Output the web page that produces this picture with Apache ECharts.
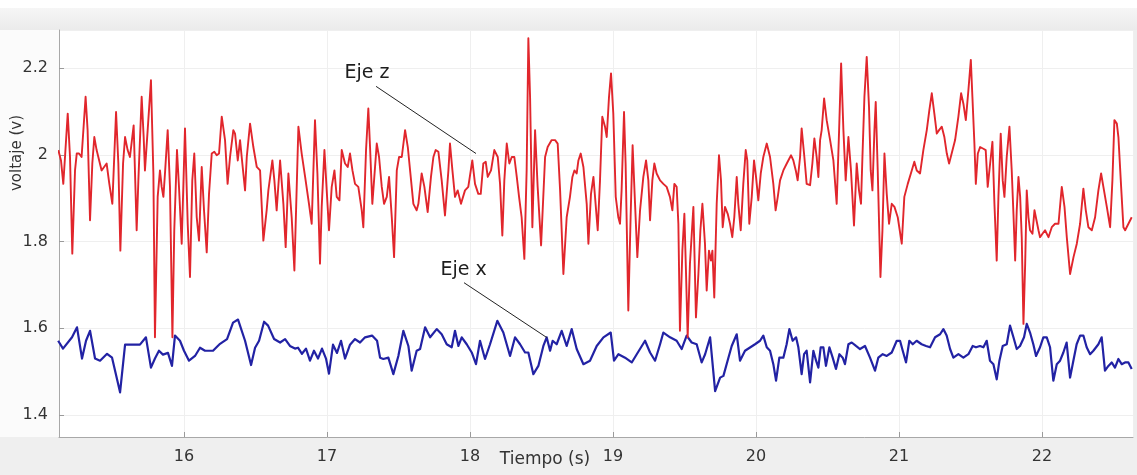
<!DOCTYPE html>
<html>
<head>
<meta charset="utf-8">
<title>Voltaje vs tiempo</title>
<script src="https://cdn.jsdelivr.net/npm/echarts@6/dist/echarts.min.js"></script>
<style>
  html, body { margin: 0; padding: 0; background: #ffffff; }
  #chart { width: 1137px; height: 475px; }
</style>
</head>
<body>
<div id="chart"></div>
<script>
// Eje z (red trace): time in seconds, voltage in volts
const zTime = [15.121,15.140,15.156,15.168,15.187,15.203,15.219,15.238,15.250,15.266,15.284,15.312,15.326,15.343,15.359,15.373,15.389,15.424,15.459,15.478,15.499,15.525,15.541,15.555,15.574,15.588,15.606,15.622,15.648,15.669,15.681,15.704,15.718,15.727,15.746,15.769,15.786,15.797,15.816,15.832,15.844,15.856,15.867,15.886,15.902,15.919,15.932,15.951,15.965,15.984,16.007,16.026,16.042,16.058,16.072,16.089,16.105,16.124,16.140,16.159,16.175,16.194,16.212,16.229,16.245,16.264,16.287,16.305,16.322,16.345,
  16.357,16.376,16.392,16.408,16.427,16.439,16.462,16.485,16.509,16.532,16.555,16.578,16.590,16.618,16.632,16.648,16.672,16.695,16.711,16.730,16.753,16.772,16.800,16.823,16.847,16.874,16.893,16.916,16.933,16.951,16.963,16.982,16.998,17.014,17.033,17.052,17.068,17.087,17.103,17.126,17.145,17.161,17.178,17.196,17.219,17.243,17.254,17.273,17.289,17.301,17.317,17.348,17.364,17.383,17.399,17.418,17.434,17.453,17.469,17.488,17.504,17.523,17.546,17.565,17.581,17.604,17.627,
  17.639,17.662,17.681,17.704,17.727,17.744,17.760,17.779,17.802,17.825,17.849,17.860,17.877,17.895,17.914,17.937,17.965,17.988,18.016,18.035,18.058,18.075,18.093,18.110,18.124,18.147,18.170,18.194,18.210,18.226,18.240,18.257,18.275,18.292,18.310,18.327,18.343,18.361,18.380,18.396,18.408,18.420,18.436,18.455,18.473,18.497,18.525,18.543,18.571,18.595,18.613,18.630,18.653,18.676,18.699,18.716,18.730,18.746,18.758,18.774,18.793,18.816,18.828,18.846,18.863,
  18.893,18.909,18.925,18.944,18.956,18.972,18.986,19.002,19.019,19.037,19.049,19.060,19.077,19.088,19.107,19.123,19.137,19.154,19.170,19.189,19.212,19.231,19.247,19.259,19.275,19.289,19.305,19.329,19.352,19.375,19.398,19.415,19.429,19.445,19.457,19.468,19.485,19.499,19.510,19.522,19.538,19.562,19.580,19.597,19.611,19.625,19.643,19.655,19.671,19.685,19.695,19.708,19.725,19.741,19.755,19.767,19.783,19.802,19.818,19.834,19.848,19.865,19.876,19.893,19.911,19.928,19.939,19.953,19.970,19.986,20.000,20.016,20.033,20.051,20.075,20.098,20.121,20.137,
  20.152,20.168,20.191,20.215,20.245,20.261,20.278,20.291,20.308,20.319,20.338,20.354,20.378,20.394,20.408,20.424,20.436,20.448,20.459,20.476,20.494,20.518,20.541,20.564,20.581,20.595,20.611,20.627,20.646,20.664,20.685,20.704,20.720,20.734,20.744,20.758,20.774,20.790,20.802,20.814,20.828,20.837,20.851,20.870,20.884,20.898,20.914,20.930,20.949,20.968,20.991,21.019,21.037,21.061,21.089,21.107,21.124,21.147,21.170,21.194,21.212,21.229,21.247,21.264,21.280,21.299,21.317,21.334,21.350,21.368,21.392,
  21.415,21.434,21.450,21.467,21.485,21.502,21.513,21.527,21.537,21.551,21.567,21.590,21.606,21.620,21.637,21.653,21.667,21.683,21.695,21.711,21.725,21.737,21.753,21.772,21.788,21.800,21.812,21.823,21.835,21.847,21.858,21.870,21.882,21.893,21.905,21.916,21.933,21.947,21.961,21.975,21.986,22.003,22.021,22.045,22.068,22.091,22.115,22.138,22.157,22.173,22.196,22.220,22.243,22.266,22.289,22.306,22.324,22.348,22.371,22.394,22.413,22.429,22.453,22.476,22.492,22.506,22.523,22.534,22.553,22.569,22.581,22.604,22.627];
const zVolt = [2.011,1.987,1.933,1.995,2.095,1.995,1.772,1.964,2.003,2.003,1.995,2.134,2.057,1.849,1.980,2.041,2.011,1.964,1.980,1.933,1.887,2.099,1.980,1.779,1.980,2.041,2.011,1.995,2.068,1.826,1.941,2.134,2.041,1.964,2.057,2.172,1.957,1.579,1.903,1.964,1.926,1.903,1.957,2.057,1.926,1.579,1.826,2.011,1.926,1.795,2.061,1.841,1.718,1.941,2.003,1.856,1.802,1.972,1.872,1.775,1.910,2.003,2.007,1.999,2.003,2.088,2.034,1.933,1.995,2.057,
  2.049,1.987,2.034,1.980,1.918,1.995,2.072,2.018,1.972,1.964,1.802,1.872,1.918,1.987,1.941,1.872,1.987,1.887,1.787,1.957,1.856,1.733,2.065,2.003,1.949,1.887,1.841,2.080,1.957,1.749,1.880,2.011,1.918,1.826,1.926,1.964,1.903,1.895,2.011,1.980,1.972,2.003,1.964,1.933,1.926,1.872,1.833,2.011,2.107,2.018,1.887,2.026,1.995,1.926,1.887,1.903,1.949,1.856,1.764,1.964,1.995,1.995,2.057,2.018,1.964,1.887,1.872,
  1.887,1.957,1.926,1.868,1.949,1.995,2.011,2.007,1.941,1.860,1.964,2.026,1.964,1.903,1.918,1.887,1.918,1.926,1.987,1.933,1.910,1.910,1.980,1.984,1.949,1.964,2.011,1.995,1.933,1.814,1.941,2.026,1.980,1.995,1.995,1.949,1.903,1.856,1.760,1.964,2.269,2.134,1.833,2.057,1.926,1.791,1.995,2.018,2.034,2.034,2.026,1.918,1.725,1.856,1.903,1.949,1.964,1.957,1.987,2.003,1.972,1.887,1.795,1.910,1.949,
  1.826,1.941,2.088,2.065,2.041,2.134,2.188,2.095,1.903,1.856,1.841,1.918,2.099,1.980,1.641,1.856,2.022,1.887,1.764,1.872,1.949,1.987,1.941,1.849,1.941,1.980,1.957,1.941,1.933,1.926,1.903,1.872,1.933,1.926,1.841,1.594,1.779,1.864,1.733,1.579,1.749,1.880,1.625,1.725,1.826,1.887,1.795,1.687,1.779,1.756,1.779,1.671,1.887,1.999,1.941,1.833,1.880,1.864,1.841,1.810,1.856,1.949,1.887,1.826,1.933,2.011,1.987,1.841,1.903,1.987,1.949,1.895,1.957,1.995,2.026,1.995,1.933,1.872,
  1.903,1.941,1.964,1.980,1.999,1.987,1.964,1.941,1.995,2.061,1.995,1.933,1.930,1.980,2.038,1.995,1.949,2.034,2.057,2.130,2.080,2.034,1.987,1.887,2.057,2.211,2.057,1.941,2.041,1.964,1.837,1.980,1.918,1.887,1.995,2.134,2.226,2.111,1.964,1.918,2.057,2.122,1.964,1.718,1.826,2.003,1.910,1.841,1.887,1.880,1.856,1.795,1.903,1.933,1.964,1.984,1.964,1.957,2.011,2.057,2.103,2.142,2.095,2.049,2.057,2.065,2.041,2.003,1.980,2.003,2.034,
  2.088,2.142,2.118,2.080,2.149,2.219,2.134,2.026,1.933,2.003,2.018,2.014,2.011,1.926,1.980,2.030,1.887,1.756,1.903,2.049,1.941,1.903,1.995,2.065,1.964,1.864,1.756,1.872,1.949,1.903,1.810,1.610,1.749,1.918,1.856,1.826,1.818,1.872,1.849,1.826,1.810,1.818,1.826,1.810,1.833,1.841,1.841,1.926,1.880,1.810,1.725,1.764,1.795,1.841,1.922,1.872,1.833,1.826,1.856,1.918,1.957,1.926,1.880,1.833,1.941,2.080,2.072,2.041,1.926,1.833,1.826,1.841,1.856];

// Eje x (blue trace)
const xTime = [15.120,15.154,15.217,15.252,15.287,15.315,15.343,15.378,15.413,15.462,15.497,15.553,15.588,15.637,15.692,15.734,15.769,15.797,15.825,15.853,15.888,15.916,15.937,15.972,16.000,16.035,16.077,16.112,16.147,16.203,16.252,16.301,16.343,16.378,16.427,16.469,16.497,16.525,16.560,16.588,16.630,16.672,16.707,16.741,16.776,16.797,16.825,16.853,16.881,16.909,16.937,16.965,16.993,17.014,17.042,17.070,17.098,17.126,17.161,17.196,17.231,17.266,17.315,17.350,17.371,
  17.394,17.429,17.464,17.499,17.534,17.569,17.592,17.627,17.651,17.686,17.721,17.767,17.802,17.837,17.872,17.895,17.919,17.942,17.977,18.012,18.042,18.070,18.105,18.140,18.191,18.233,18.280,18.315,18.350,18.385,18.408,18.443,18.478,18.513,18.536,18.560,18.578,18.606,18.641,18.676,18.711,18.746,18.793,18.839,18.886,18.933,18.984,19.007,19.038,19.084,19.131,19.166,19.224,19.259,19.294,19.329,19.352,19.399,19.445,19.480,19.515,19.550,19.585,19.620,19.644,19.679,19.714,19.749,19.772,19.807,19.830,19.865,19.888,19.923,
  19.993,20.028,20.051,20.075,20.098,20.121,20.140,20.163,20.191,20.214,20.233,20.256,20.280,20.296,20.319,20.336,20.354,20.378,20.401,20.420,20.436,20.452,20.471,20.489,20.513,20.536,20.559,20.583,20.606,20.622,20.646,20.669,20.699,20.727,20.762,20.797,20.832,20.855,20.886,20.914,20.949,20.984,21.007,21.026,21.049,21.072,21.096,21.123,21.158,21.189,21.217,21.252,21.287,21.310,21.333,21.357,21.380,21.415,21.450,21.485,21.515,21.538,21.566,21.590,21.613,21.636,21.660,21.683,21.702,21.725,21.753,21.776,21.800,21.823,21.846,21.874,21.893,21.916,21.939,21.958,21.986,22.009,22.033,22.056,22.079,22.103,22.126,22.149,22.172,22.196,22.219,22.242,22.266,22.289,22.312,22.336,22.359,22.394,22.417,22.440,22.464,22.487,22.510,22.534,22.557,22.580,22.604,22.627];
const xVolt = [1.571,1.553,1.579,1.602,1.530,1.571,1.594,1.530,1.525,1.541,1.532,1.452,1.562,1.562,1.562,1.579,1.509,1.530,1.548,1.539,1.543,1.513,1.583,1.571,1.548,1.525,1.536,1.555,1.548,1.548,1.564,1.575,1.613,1.620,1.571,1.515,1.555,1.571,1.615,1.606,1.575,1.567,1.575,1.559,1.553,1.555,1.541,1.553,1.525,1.548,1.530,1.553,1.530,1.495,1.562,1.543,1.571,1.530,1.562,1.575,1.567,1.579,1.583,1.571,1.532,
  1.529,1.532,1.494,1.536,1.594,1.559,1.502,1.548,1.552,1.602,1.579,1.598,1.586,1.563,1.556,1.594,1.559,1.579,1.563,1.544,1.517,1.571,1.529,1.563,1.617,1.590,1.536,1.579,1.563,1.544,1.544,1.494,1.513,1.559,1.579,1.548,1.571,1.563,1.594,1.559,1.598,1.552,1.517,1.525,1.559,1.579,1.590,1.525,1.540,1.532,1.521,1.540,1.571,1.544,1.525,1.563,1.590,1.579,1.571,1.552,1.583,1.567,1.563,1.521,1.540,1.579,1.455,1.486,1.490,1.532,1.559,1.586,1.525,1.548,
  1.563,1.571,1.583,1.556,1.548,1.517,1.479,1.532,1.532,1.563,1.598,1.571,1.579,1.556,1.494,1.540,1.548,1.475,1.548,1.525,1.509,1.556,1.556,1.513,1.556,1.532,1.506,1.540,1.532,1.517,1.563,1.567,1.559,1.552,1.559,1.532,1.502,1.532,1.540,1.536,1.544,1.571,1.571,1.548,1.521,1.571,1.563,1.571,1.563,1.559,1.556,1.579,1.586,1.598,1.583,1.552,1.532,1.540,1.532,1.540,1.559,1.556,1.559,1.556,1.571,1.525,1.517,1.482,1.525,1.559,1.563,1.606,1.579,1.552,1.559,1.579,1.610,1.590,1.563,1.536,1.556,1.579,1.579,1.556,1.479,1.517,1.525,1.544,1.567,1.486,1.525,1.563,1.583,1.583,1.556,1.540,1.548,1.563,1.579,1.502,1.513,1.521,1.509,1.529,1.517,1.521,1.521,1.506];

// Visible ranges of both axes
const xRange = [15.126, 22.636];
const yRange = [1.349, 2.288];

// Leader-line annotations: label text, label anchor, line start, line end (data units)
const zNote = { text: 'Eje z', at: [17.28, 2.188], from: [17.343, 2.158], to: [18.042, 2.003] };
const xNote = { text: 'Eje x', at: [17.955, 1.733], from: [17.958, 1.705], to: [18.539, 1.578] };

const FONT = 'DejaVu Sans';
const zip = (t, v) => t.map((x, i) => [x, v[i]]);

function noteMarks(note) {
  return {
    markLine: {
      silent: true,
      symbol: ['none', 'none'],
      label: { show: false },
      lineStyle: { color: '#222222', width: 1, type: 'solid' },
      data: [[{ coord: note.from }, { coord: note.to }]]
    },
    markPoint: {
      silent: true,
      symbol: 'rect',
      symbolSize: 1,
      itemStyle: { color: 'rgba(0,0,0,0)' },
      label: {
        show: true, position: 'inside', formatter: note.text,
        color: '#1e1e1e', fontFamily: FONT, fontSize: 19
      },
      data: [{ coord: note.at }]
    }
  };
}

const chart = echarts.init(document.getElementById('chart'), null, { renderer: 'canvas' });

chart.setOption({
  backgroundColor: '#ffffff',
  animation: false,
  textStyle: { fontFamily: FONT },
  grid: {
    left: 59, right: 4, top: 30, bottom: 38,
    show: true, backgroundColor: '#ffffff', borderWidth: 0
  },
  graphic: [
    // frame bands around the plotting area
    { type: 'rect', z: -10, shape: { x: 0, y: 8, width: 1137, height: 22 },
      style: { fill: new echarts.graphic.LinearGradient(0, 0, 0, 1, [
        { offset: 0, color: '#f6f6f6' }, { offset: 1, color: '#ebebeb' }]) } },
    { type: 'rect', z: -10, shape: { x: 0, y: 437, width: 1137, height: 38 },
      style: { fill: '#efefef' } },
    { type: 'rect', z: -10, shape: { x: 1133, y: 30, width: 4, height: 407 },
      style: { fill: '#eeeeee' } },
    { type: 'rect', z: -10, shape: { x: 0, y: 30, width: 59, height: 407 },
      style: { fill: '#fbfbfb' } },
    // axis titles
    { type: 'text', x: 545, y: 460, z: 10,
      style: { text: 'Tiempo (s)', fill: '#333333', font: '17px "DejaVu Sans"',
        textAlign: 'center', textVerticalAlign: 'middle' } },
    { type: 'text', x: 17, y: 153, rotation: Math.PI / 2, z: 10,
      style: { text: 'voltaje (v)', fill: '#333333', font: '15px "DejaVu Sans"',
        textAlign: 'center', textVerticalAlign: 'middle' } }
  ],
  xAxis: {
    type: 'value',
    min: xRange[0], max: xRange[1],
    splitNumber: 7,
    axisLine: { show: true, onZero: false, lineStyle: { color: '#a8a8a8', width: 1 } },
    axisTick: { show: true, inside: true, length: 5, lineStyle: { color: '#9a9a9a' } },
    axisLabel: {
      showMinLabel: false, showMaxLabel: false,
      color: '#333333', fontSize: 16, margin: 12, fontFamily: FONT
    },
    splitLine: { show: true, lineStyle: { color: '#efefef', width: 1 } }
  },
  yAxis: {
    type: 'value',
    min: yRange[0], max: yRange[1],
    splitNumber: 5,
    axisLine: { show: true, onZero: false, lineStyle: { color: '#a8a8a8', width: 1 } },
    axisTick: { show: true, inside: true, length: 5, lineStyle: { color: '#9a9a9a' } },
    axisLabel: {
      showMinLabel: false, showMaxLabel: false,
      color: '#333333', fontSize: 16, margin: 11, fontFamily: FONT
    },
    splitLine: { show: true, lineStyle: { color: '#efefef', width: 1 } }
  },
  series: [
    Object.assign({
      name: 'Eje z',
      type: 'line',
      data: zip(zTime, zVolt),
      showSymbol: false,
      symbol: 'none',
      lineStyle: { color: '#e1262c', width: 1.9, join: 'round' },
      z: 3
    }, noteMarks(zNote)),
    Object.assign({
      name: 'Eje x',
      type: 'line',
      data: zip(xTime, xVolt),
      showSymbol: false,
      symbol: 'none',
      lineStyle: { color: '#2222a4', width: 2.2, join: 'round' },
      z: 2
    }, noteMarks(xNote))
  ]
});
</script>
</body>
</html>
